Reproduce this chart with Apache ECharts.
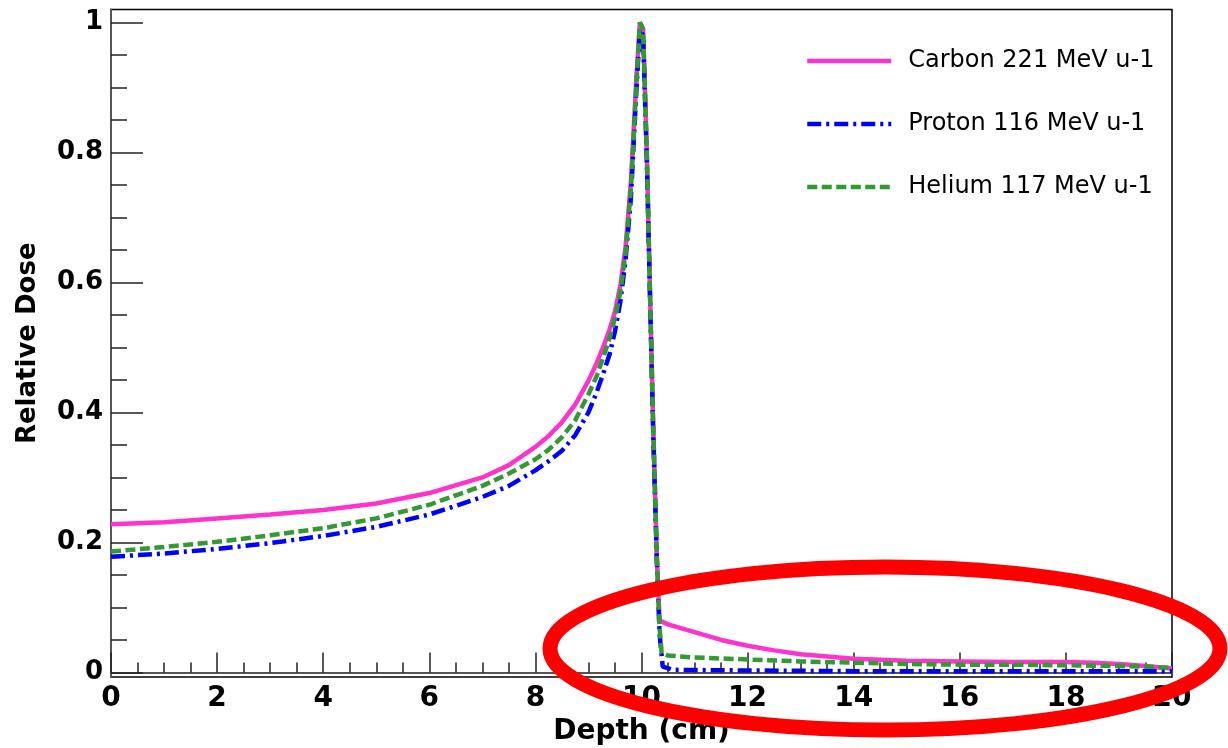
<!DOCTYPE html>
<html>
<head>
<meta charset="utf-8">
<title>Relative Dose vs Depth</title>
<script src="https://cdn.jsdelivr.net/npm/echarts@6.0.0/dist/echarts.min.js"></script>
<style>
  html, body { margin: 0; padding: 0; background: #fff; }
  #chart { width: 1228px; height: 748px; }
</style>
</head>
<body>
<div id="chart"></div>
<script>
// ---- data ----
var carbonDepth = [0, 1, 2, 3, 4, 5, 6, 7, 7.5, 8, 8.25, 8.5, 8.75, 9, 9.15, 9.3, 9.4, 9.5, 9.6, 9.7, 9.8, 9.85, 9.9, 9.97,
  10.03, 10.1, 10.16, 10.22, 10.29, 10.34,
  10.5, 11, 11.5, 12, 12.5, 13, 14, 15, 16, 17, 18, 18.5, 19, 19.5, 20];
var carbonDose = [0.228, 0.231, 0.237, 0.243, 0.250, 0.260, 0.276, 0.300, 0.319, 0.347, 0.364, 0.385, 0.412, 0.449, 0.475, 0.505, 0.528, 0.555, 0.595, 0.655, 0.755, 0.83, 0.91, 1.0,
  0.99, 0.80, 0.585, 0.38, 0.175, 0.08,
  0.074, 0.062, 0.050, 0.041, 0.034, 0.028, 0.021, 0.018, 0.017, 0.016, 0.016, 0.015, 0.013, 0.010, 0.006];

var protonDepth = [0, 1, 2, 3, 4, 5, 6, 7, 7.5, 8, 8.25, 8.5, 8.75, 9, 9.15, 9.3, 9.4, 9.5, 9.6, 9.7, 9.8, 9.85, 9.9, 9.97,
  10.03, 10.1, 10.16, 10.22, 10.29, 10.34,
  10.4, 10.6, 12, 14, 16, 18, 20];
var protonDose = [0.178, 0.183, 0.190, 0.199, 0.210, 0.224, 0.243, 0.270, 0.287, 0.311, 0.325, 0.341, 0.365, 0.400, 0.430, 0.465, 0.49, 0.525, 0.57, 0.635, 0.73, 0.81, 0.89, 0.99,
  0.98, 0.79, 0.58, 0.37, 0.17, 0.06,
  0.009, 0.004, 0.003, 0.002, 0.002, 0.002, 0.002];

var heliumDepth = [0, 1, 2, 3, 4, 5, 6, 7, 7.5, 8, 8.24, 8.5, 8.75, 9, 9.15, 9.3, 9.4, 9.5, 9.6, 9.7, 9.8, 9.85, 9.9, 9.97,
  10.03, 10.1, 10.16, 10.22, 10.29, 10.34,
  10.38, 10.5, 11, 12, 13, 14, 15, 16, 17, 18, 19, 19.5, 20];
var heliumDose = [0.186, 0.193, 0.201, 0.211, 0.222, 0.237, 0.258, 0.287, 0.306, 0.328, 0.342, 0.362, 0.388, 0.428, 0.455, 0.49, 0.515, 0.545, 0.585, 0.645, 0.745, 0.82, 0.90, 1.0,
  0.99, 0.80, 0.585, 0.38, 0.175, 0.07,
  0.03, 0.026, 0.023, 0.020, 0.017, 0.015, 0.013, 0.012, 0.012, 0.011, 0.010, 0.009, 0.007];

var seriesNames = ['Carbon 221 MeV u-1', 'Proton 116 MeV u-1', 'Helium 117 MeV u-1'];

// tick positions on the dose axis
var doseMajorTicks = [0, 0.2, 0.4, 0.6, 0.8, 1];
var doseMinorTicks = [0, 0.05, 0.1, 0.15, 0.2, 0.25, 0.3, 0.35, 0.4, 0.45, 0.5, 0.55, 0.6, 0.65, 0.7, 0.75, 0.8, 0.85, 0.9, 0.95, 1];

function pairs(xs, ys) {
  var out = [];
  for (var i = 0; i < xs.length; i++) out.push([xs[i], ys[i]]);
  return out;
}

var chart = echarts.init(document.getElementById('chart'));

var labelFont = { fontFamily: 'DejaVu Sans', fontWeight: 'bold', fontSize: 26, color: '#000' };

var option = {
  backgroundColor: '#fff',
  animation: false,
  grid: {
    left: 111, right: 56, top: 9.5, bottom: 71,
    show: true, borderColor: '#000', borderWidth: 1.5,
    containLabel: false, outerBoundsMode: 'none'
  },
  legend: {
    orient: 'vertical',
    left: 805, top: 49,
    padding: 0,
    itemWidth: 84, itemHeight: 14, itemGap: 39,
    itemStyle: { opacity: 0 },
    lineStyle: { width: 'inherit' },
    textStyle: { fontFamily: 'DejaVu Sans', fontSize: 24, color: '#000', padding: [0, 0, 0, 12] },
    data: seriesNames
  },
  xAxis: {
    type: 'value',
    min: 0, max: 20, interval: 2,
    name: 'Depth (cm)',
    nameLocation: 'middle',
    nameGap: 40,
    nameTextStyle: { fontFamily: 'DejaVu Sans', fontWeight: 'bold', fontSize: 28, color: '#000' },
    axisLine: { lineStyle: { color: '#555', width: 2 } },
    axisTick: { inside: true, length: 20, lineStyle: { color: '#222', width: 1.5 } },
    minorTick: { show: true, splitNumber: 4, length: 10, lineStyle: { color: '#222', width: 1.5 } },
    axisLabel: { margin: 8, fontSize: 28, fontFamily: 'DejaVu Sans', fontWeight: 'bold', color: '#000' },
    splitLine: { show: false }
  },
  yAxis: [
    {
      type: 'value',
      min: -0.007, max: 1.02,
      name: 'Relative Dose',
      nameLocation: 'middle',
      nameGap: 70,
      nameTextStyle: { fontFamily: 'DejaVu Sans', fontWeight: 'bold', fontSize: 26, color: '#000' },
      axisLine: { show: true, lineStyle: { color: '#555', width: 2 } },
      axisTick: { inside: true, length: 32, customValues: doseMajorTicks, lineStyle: { color: '#222', width: 1.5 } },
      axisLabel: Object.assign({ margin: 8, customValues: doseMajorTicks,
        formatter: function (v) { return String(Math.round(v * 10) / 10); } }, labelFont),
      splitLine: { show: false }
    },
    {
      type: 'value',
      min: -0.007, max: 1.02,
      position: 'left',
      axisLine: { show: false },
      axisTick: { inside: true, length: 16, customValues: doseMinorTicks, lineStyle: { color: '#222', width: 1.5 } },
      axisLabel: { show: false },
      splitLine: { show: false }
    }
  ],
  series: [
    {
      name: seriesNames[0], type: 'line', symbol: 'none', z: 3,
      lineStyle: { color: '#ff33cc', width: 4.5, type: 'solid' },
      itemStyle: { color: '#ff33cc' },
      data: pairs(carbonDepth, carbonDose)
    },
    {
      name: seriesNames[1], type: 'line', symbol: 'none', z: 4,
      lineStyle: { color: '#0000ff', width: 4.5, type: [14, 5, 3, 5] },
      itemStyle: { color: '#0000ff' },
      data: pairs(protonDepth, protonDose)
    },
    {
      name: seriesNames[2], type: 'line', symbol: 'none', z: 5,
      lineStyle: { color: '#339933', width: 4.5, type: [10, 4.5] },
      itemStyle: { color: '#339933' },
      data: pairs(heliumDepth, heliumDose)
    }
  ],
  // red annotation ellipse drawn over the tail region
  graphic: [
    {
      type: 'ellipse', z: 100,
      shape: { cx: 885, cy: 648.5, rx: 335, ry: 81.5 },
      style: { fill: 'transparent', stroke: '#ff0000', lineWidth: 15 }
    }
  ]
};

chart.setOption(option);
</script>
</body>
</html>
